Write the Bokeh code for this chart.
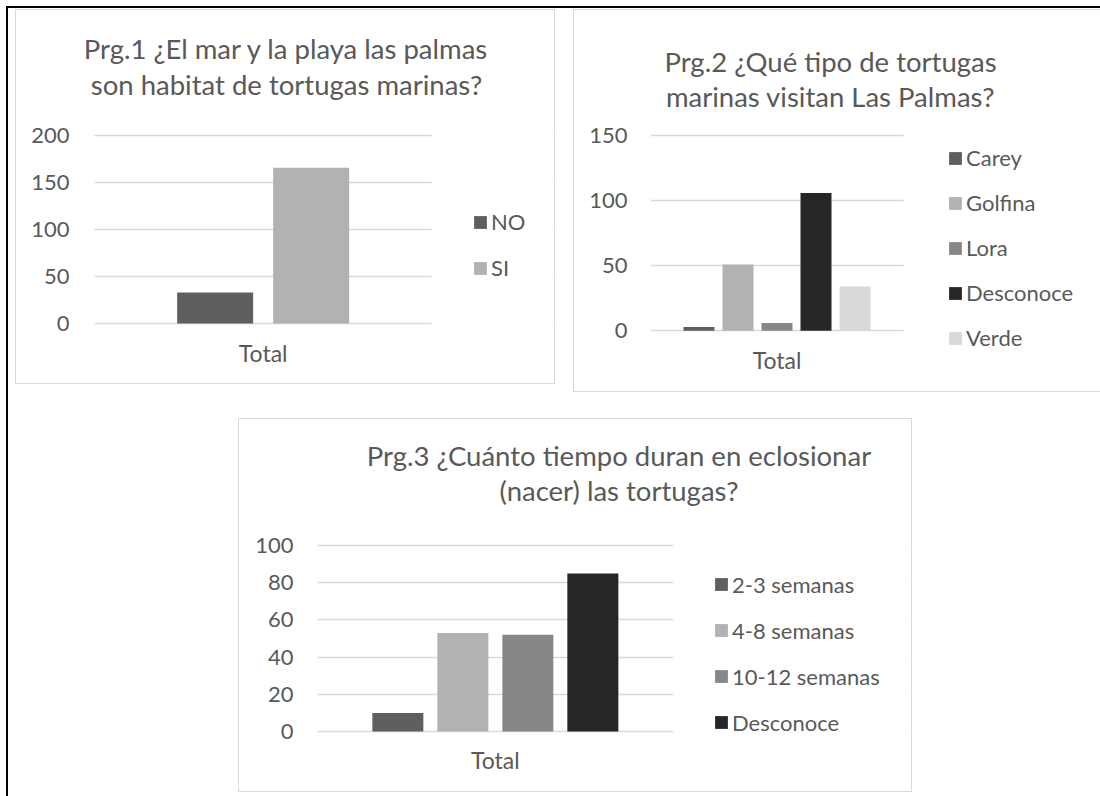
from bokeh.plotting import figure
from bokeh.models import (ColumnDataSource, Range1d, FixedTicker, Legend, LegendItem,
                          Label, Spacer, BoxAnnotation)
from bokeh.layouts import row, column
from bokeh.embed import file_html
from bokeh.resources import INLINE

FONT = "Lato"
TXT = "#595959"
GRID = "#D9D9D9"

# ---------------- data ----------------
category_label = "Total"

q1_title = ["Prg.1 ¿El mar y la playa las palmas", "son habitat de tortugas marinas?"]
q1_cats = ["NO", "SI"]
q1_vals = [33, 166]
q1_ticks = [0, 50, 100, 150, 200]
q1_colors = ["#5F5F5F", "#B2B2B2"]

q2_title = ["Prg.2 ¿Qué tipo de tortugas", "marinas visitan Las Palmas?"]
q2_cats = ["Carey", "Golfina", "Lora", "Desconoce", "Verde"]
q2_vals = [3, 51, 6, 106, 34]
q2_ticks = [0, 50, 100, 150]
q2_colors = ["#5F5F5F", "#B2B2B2", "#878787", "#262626", "#D9D9D9"]

q3_title = ["Prg.3 ¿Cuánto tiempo duran en eclosionar", "(nacer) las tortugas?"]
q3_cats = ["2-3 semanas", "4-8 semanas", "10-12 semanas", "Desconoce"]
q3_vals = [10, 53, 52, 85]
q3_ticks = [0, 20, 40, 60, 80, 100]
q3_colors = ["#5F5F5F", "#B2B2B2", "#878787", "#262626"]


def make_chart(title_lines, cats, vals, colors, ticks, w, h, ml, gw, gh, dz, lpad,
               bar_px, step_px, title_x, title_y1, title_y2,
               leg_x, leg_c0, leg_d, ystand, xstand, border):
    mt, mr, mb = 4, 4, 4
    fw = w - ml - mr
    fh = h - mt - mb
    u = (ticks[-1] - ticks[0]) / gh          # data units per pixel (vertical)
    y0 = ticks[0] - dz * u                   # frame bottom lies dz px below the zero line
    x0 = -lpad / gw                          # frame left lies lpad px left of the plot area
    p = figure(width=w, height=h, output_backend="svg", toolbar_location=None,
               x_range=Range1d(x0, x0 + fw / gw), y_range=Range1d(y0, y0 + fh * u),
               min_border_left=ml, min_border_right=mr,
               min_border_top=mt, min_border_bottom=mb,
               outline_line_color=None, background_fill_color="white",
               border_fill_color="white", styles=border)
    n = len(cats)
    xs = [0.5 + (i - (n - 1) / 2) * step_px / gw for i in range(n)]
    src = ColumnDataSource(dict(x=xs, top=vals, color=colors, label=cats))

    # gridlines limited to the plot area (mask both sides)
    p.xgrid.grid_line_color = None
    p.ygrid.grid_line_color = GRID
    p.ygrid.grid_line_width = 1.5
    p.add_layout(BoxAnnotation(left=1.0, fill_color="white", fill_alpha=1.0,
                               line_color=None, level="underlay"))
    if lpad > 0:
        p.add_layout(BoxAnnotation(right=0.0, fill_color="white", fill_alpha=1.0,
                                   line_color=None, level="underlay"))

    r = p.vbar(x="x", top="top", bottom=0, width=bar_px / gw, fill_color="color",
               line_color=None, source=src)

    # value axis
    p.yaxis.ticker = FixedTicker(ticks=ticks)
    p.yaxis.axis_line_color = None
    p.yaxis.major_tick_line_color = None
    p.yaxis.minor_tick_line_color = None
    p.yaxis.major_tick_out = 0
    p.yaxis.major_label_standoff = ystand
    p.yaxis.major_label_text_font = FONT
    p.yaxis.major_label_text_font_size = "22px"
    p.yaxis.major_label_text_color = TXT

    # category axis, pinned to the zero line
    p.xaxis.fixed_location = ticks[0]
    p.xaxis.ticker = FixedTicker(ticks=[0.5])
    p.xaxis.major_label_overrides = {0.5: category_label}
    p.xaxis.axis_line_color = None
    p.xaxis.major_tick_line_color = None
    p.xaxis.minor_tick_line_color = None
    p.xaxis.major_tick_out = 0
    p.xaxis.minor_tick_out = 0
    p.xaxis.major_label_standoff = xstand
    p.xaxis.major_label_text_font = FONT
    p.xaxis.major_label_text_font_size = "23px"
    p.xaxis.major_label_text_color = TXT

    # title (two centred lines)
    for txt, ty in zip(title_lines, (title_y1, title_y2)):
        p.add_layout(Label(x=title_x, y=ty, x_units="screen", y_units="screen",
                           text=txt, text_align="center", text_baseline="middle",
                           text_font=FONT, text_font_size="27.5px", text_color=TXT))

    # legend
    item_h = 28
    spacing = leg_d - item_h
    leg_h = n * item_h + (n - 1) * spacing
    items = [LegendItem(label=c, renderers=[r], index=i) for i, c in enumerate(cats)]
    leg = Legend(items=items, location=(leg_x, leg_c0 + item_h / 2 - leg_h),
                 orientation="vertical", glyph_width=16, glyph_height=16,
                 label_height=item_h, label_standoff=3, spacing=int(round(spacing)),
                 padding=0, margin=0, border_line_color=None,
                 background_fill_alpha=0, label_text_font=FONT,
                 label_text_font_size="22px", label_text_color=TXT,
                 label_text_baseline="middle")
    p.add_layout(leg)
    return p


B = "1.5px solid #D9D9D9"
p1 = make_chart(q1_title, q1_cats, q1_vals, q1_colors, q1_ticks,
                w=540, h=375, ml=66, gw=337.3, gh=187.7, dz=58, lpad=12,
                bar_px=76, step_px=96, title_x=204, title_y1=333, title_y2=297,
                leg_x=390, leg_c0=159.5, leg_d=46, ystand=13, xstand=15,
                border={"border": B, "box-sizing": "border-box"})

p2 = make_chart(q2_title, q2_cats, q2_vals, q2_colors, q2_ticks,
                w=527, h=383, ml=76, gw=253, gh=195, dz=58.7, lpad=0,
                bar_px=31, step_px=39, title_x=180, title_y1=328.5, title_y2=293.5,
                leg_x=297, leg_c0=231.5, leg_d=45, ystand=23, xstand=15,
                border={"border-left": B, "border-top": B, "border-bottom": B,
                        "box-sizing": "border-box"})

p3 = make_chart(q3_title, q3_cats, q3_vals, q3_colors, q3_ticks,
                w=674, h=374, ml=78, gw=355.7, gh=186, dz=58, lpad=0,
                bar_px=51, step_px=65, title_x=301.5, title_y1=334, title_y2=299,
                leg_x=396, leg_c0=204, leg_d=45.8, ystand=24, xstand=14,
                border={"border": B, "box-sizing": "border-box"})

black = {"background-color": "black"}
top_row = row(Spacer(width=7, height=1), p1, Spacer(width=18, height=1), p2)
bottom_row = row(Spacer(width=230, height=1), p3)
inner = column(Spacer(width=1, height=1), top_row, Spacer(width=1, height=26), bottom_row)
page = column(
    Spacer(width=1, height=6),
    row(Spacer(width=6, height=2), Spacer(width=1094, height=2, styles=black)),
    row(Spacer(width=6, height=788), Spacer(width=2, height=788, styles=black), inner),
)

open("out.html", "w").write(file_html(page, INLINE))
